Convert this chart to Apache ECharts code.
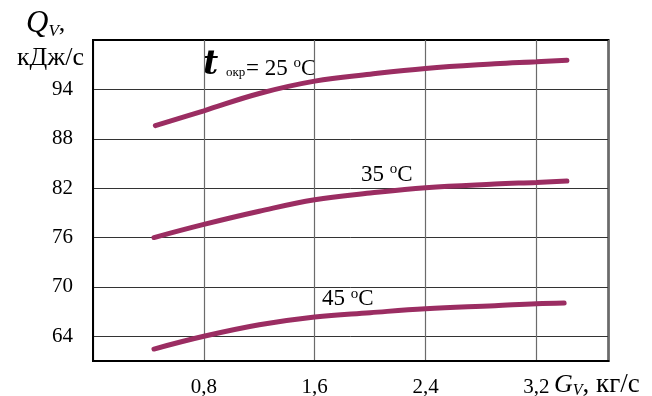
<!DOCTYPE html>
<html><head><meta charset="utf-8">
<script src="https://cdn.jsdelivr.net/npm/echarts@6/dist/echarts.min.js"></script>
<style>html,body{margin:0;padding:0;background:#fff}#c{width:652px;height:396px}</style>
</head><body><div id="c"></div>
<script>
const xTicks = [0.8, 1.6, 2.4, 3.2];
const yTicks = [64, 70, 76, 82, 88, 94];
const g25 = [0.45, 0.8, 1.2, 1.6, 2.0, 2.4, 2.9, 3.2, 3.42];
const q25 = [89.6, 91.4, 93.5, 95.0, 95.85, 96.55, 97.1, 97.35, 97.55];
const g35 = [0.44, 0.8, 1.2, 1.6, 2.0, 2.4, 2.9, 3.2, 3.42];
const q35 = [76.0, 77.6, 79.2, 80.6, 81.4, 82.05, 82.5, 82.7, 82.87];
const g45 = [0.44, 0.8, 1.2, 1.6, 2.0, 2.4, 2.9, 3.2, 3.40];
const q45 = [62.45, 64.0, 65.4, 66.35, 66.87, 67.35, 67.72, 67.96, 68.05];

const FF = '"Liberation Serif", "Times New Roman", serif';
const LINE = '#9b2d62';
const chart = echarts.init(document.getElementById('c'), null, {renderer: 'canvas'});
const pair = (gs, qs) => gs.map((g, i) => [g, qs[i]]);
const lineSeries = (gs, qs) => ({
  type: 'line', data: pair(gs, qs), smooth: 0.4, showSymbol: false, silent: true,
  lineStyle: {color: LINE, width: 5, cap: 'round'}
});
const degRich = {
  n: {fontFamily: FF, fontSize: 23, lineHeight: 26, color: '#000'},
  o: {fontFamily: FF, fontSize: 15, lineHeight: 14, verticalAlign: 'top', color: '#000'}
};
chart.setOption({
  animation: false,
  backgroundColor: '#fff',
  grid: {left: 93, right: 43.5, top: 40, bottom: 35, show: true, borderColor: '#000', borderWidth: 2,
         containLabel: false, outerBoundsMode: 'none'},
  xAxis: {
    type: 'value', min: 0, max: 3.72, interval: 0.8,
    axisLine: {show: true, onZero: false, lineStyle: {color: '#000', width: 2}},
    axisTick: {show: false},
    axisLabel: {
      color: '#000', fontFamily: FF, fontSize: 21, margin: 16, showMaxLabel: false, showMinLabel: false,
      formatter: v => xTicks.some(t => Math.abs(t - v) < 1e-6) ? String(v).replace('.', ',') : ''
    },
    splitLine: {show: true, lineStyle: {color: '#6b6b6b', width: 1.2}}
  },
  yAxis: {
    type: 'value', min: 61, max: 100,
    axisLine: {show: true, onZero: false, lineStyle: {color: '#000', width: 2}},
    axisTick: {show: false, customValues: yTicks},
    axisLabel: {color: '#000', fontFamily: FF, fontSize: 21, margin: 20, customValues: yTicks},
    splitLine: {show: true, lineStyle: {color: '#333', width: 1}}
  },
  series: [lineSeries(g25, q25), lineSeries(g35, q35), lineSeries(g45, q45)],
  graphic: [
    {type: 'text', x: 26, y: 8, style: {
      text: '{q|Q}{v|V}{c|,}', rich: {
        q: {fontFamily: FF, fontStyle: 'italic', fontSize: 31, lineHeight: 32, color: '#000'},
        v: {fontFamily: FF, fontStyle: 'italic', fontSize: 17, lineHeight: 15, verticalAlign: 'bottom', color: '#000'},
        c: {fontFamily: FF, fontSize: 26, lineHeight: 32, color: '#000'}
      }}},
    {type: 'text', x: 84, y: 58, style: {text: 'кДж/с', fontFamily: FF, fontSize: 26, fill: '#000', align: 'right', verticalAlign: 'middle'}},
    {type: 'text', x: 554, y: 385, style: {
      text: '{g|G}{v|V}{n|, кг/с}', verticalAlign: 'middle', rich: {
        g: {fontFamily: FF, fontStyle: 'italic', fontSize: 26, lineHeight: 28, color: '#000'},
        v: {fontFamily: FF, fontStyle: 'italic', fontSize: 16, lineHeight: 14, verticalAlign: 'bottom', color: '#000'},
        n: {fontFamily: FF, fontSize: 27, lineHeight: 28, color: '#000'}
      }}},
    {type: 'text', x: 203, y: 65.5, style: {text: 't', fontFamily: '"DejaVu Serif", serif', fontStyle: 'italic', fontWeight: 'bold', fontSize: 33, fill: '#000', verticalAlign: 'middle'}},
    {type: 'text', x: 226, y: 72.5, style: {text: 'окр', fontFamily: FF, fontSize: 13, fill: '#000', verticalAlign: 'middle'}},
    {type: 'text', x: 246, y: 68.7, style: {text: '{n|= 25 }{o|o}{n|C}', verticalAlign: 'middle', rich: degRich}},
    {type: 'text', x: 361, y: 174.7, style: {text: '{n|35 }{o|o}{n|C}', verticalAlign: 'middle', rich: degRich}},
    {type: 'text', x: 322, y: 299.2, style: {text: '{n|45 }{o|o}{n|C}', verticalAlign: 'middle', rich: degRich}}
  ]
});
</script></body></html>
